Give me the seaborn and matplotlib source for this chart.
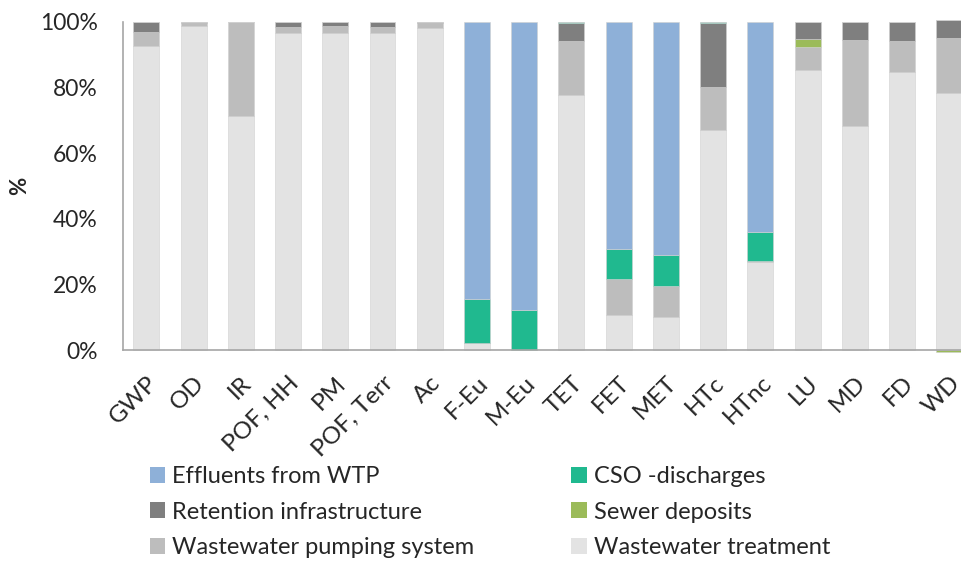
import numpy as np
import pandas as pd
import matplotlib
matplotlib.use("Agg")
import matplotlib.pyplot as plt
import matplotlib.transforms as mtransforms
import seaborn as sns
from matplotlib.patches import Patch

categories = ["GWP", "OD", "IR", "POF, HH", "PM", "POF, Terr", "Ac", "F-Eu", "M-Eu",
              "TET", "FET", "MET", "HTc", "HTnc", "LU", "MD", "FD", "WD"]

# shares in % per impact category (stack order bottom -> top)
treatment = [92.8, 98.8, 71.3, 96.7, 96.5, 96.7, 98.2, 2.2, 0.0,
             77.8, 10.8, 10.2, 67.0, 26.9, 85.2, 68.2, 84.7, 78.3]
pumping = [4.0, 1.0, 28.7, 1.6, 2.3, 1.6, 1.4, 0.0, 0.0,
           16.4, 10.9, 9.4, 13.3, 0.3, 7.1, 26.2, 9.4, 16.7]
sewer_deposits = [0.0, 0.0, 0.0, 0.1, 0.0, 0.1, 0.0, 0.0, 0.0,
                  0.0, 0.0, 0.0, 0.0, 0.0, 2.4, 0.0, 0.2, -0.6]
retention = [3.2, 0.2, 0.0, 1.6, 1.2, 1.6, 0.4, 0.0, 0.0,
             5.6, 0.0, 0.0, 19.5, 0.0, 5.3, 5.6, 5.7, 5.6]
cso = [0.0, 0.0, 0.0, 0.0, 0.0, 0.0, 0.0, 13.4, 12.2,
       0.2, 9.2, 9.5, 0.2, 8.9, 0.0, 0.0, 0.0, 0.0]
effluents = [0.0, 0.0, 0.0, 0.0, 0.0, 0.0, 0.0, 84.4, 87.8,
             0.0, 69.1, 70.9, 0.0, 63.9, 0.0, 0.0, 0.0, 0.0]

layers = [
    ("Wastewater treatment", treatment, "#E3E3E3"),
    ("Wastewater pumping system", pumping, "#BDBDBD"),
    ("Sewer deposits", sewer_deposits, "#9BBB59"),
    ("Retention infrastructure", retention, "#7F7F7F"),
    ("CSO -discharges", cso, "#20B98F"),
    ("Effluents from WTP", effluents, "#8EB0D8"),
]

sns.set_style("white")
plt.rcParams["font.family"] = ["Lato", "DejaVu Sans"]
plt.rcParams["text.color"] = "#262626"

fig = plt.figure(figsize=(9.62, 5.61), dpi=100)
ax = fig.add_axes([0.1275, 0.376, 0.884, 0.585])

pos_base = np.zeros(len(categories))
neg_base = np.zeros(len(categories))
for name, values, color in layers:
    vals = np.array(values, dtype=float)
    bottom = np.where(vals >= 0, pos_base, neg_base)
    df = pd.DataFrame({"cat": categories, "val": vals})
    sns.barplot(data=df, x="cat", y="val", color=color, bottom=bottom,
                width=0.55, saturation=1, edgecolor="#D0D0D0", linewidth=0.4,
                ax=ax, clip_on=False)
    pos_base += np.where(vals >= 0, vals, 0)
    neg_base += np.where(vals < 0, vals, 0)

ax.set_xlim(-0.5, len(categories) - 0.5)
ax.set_ylim(0, 100)
ax.set_yticks(np.arange(0, 101, 20))
ax.set_yticklabels([f"{v}%" for v in range(0, 101, 20)], fontsize=16.5, color="#262626")
ax.set_ylabel("%", fontsize=16, fontweight="bold", color="#262626")
ax.yaxis.set_label_coords(-0.109, 0.5)
ax.set_xlabel("")

# Excel-style ticks between the categories
ax.set_xticks(np.arange(len(categories)))
ax.set_xticklabels(categories, rotation=45, ha="right", rotation_mode="anchor",
                   fontsize=17.5, color="#262626")
shift = mtransforms.ScaledTranslation(-4 / 100, 0, fig.dpi_scale_trans)
for lab in ax.get_xticklabels():
    lab.set_transform(lab.get_transform() + shift)
ax.set_xticks(np.arange(-0.5, len(categories), 1), minor=True)
ax.tick_params(axis="x", which="major", length=0, pad=16)
ax.tick_params(axis="x", which="minor", length=6, width=1, color="#A6A6A6", direction="out")
ax.tick_params(axis="y", length=6, width=1, color="#A6A6A6", direction="out", pad=12)

for side in ["top", "right"]:
    ax.spines[side].set_visible(False)
for side in ["left", "bottom"]:
    ax.spines[side].set_color("#A6A6A6")
    ax.spines[side].set_linewidth(1.2)

colors = {name: color for name, _, color in layers}
legend_order = ["Effluents from WTP", "Retention infrastructure", "Wastewater pumping system",
                "CSO -discharges", "Sewer deposits", "Wastewater treatment"]
handles = [Patch(facecolor=colors[n], edgecolor="none", label=n) for n in legend_order]
fig.legend(handles=handles, ncol=2, loc="upper left", bbox_to_anchor=(150 / 962, 1 - 466 / 561),
           frameon=False, fontsize=17, handlelength=0.65, handleheight=0.65,
           handletextpad=0.3, columnspacing=4.1, labelspacing=0.62, borderpad=0,
           borderaxespad=0, bbox_transform=fig.transFigure)

fig.savefig("out.png", dpi=100)
